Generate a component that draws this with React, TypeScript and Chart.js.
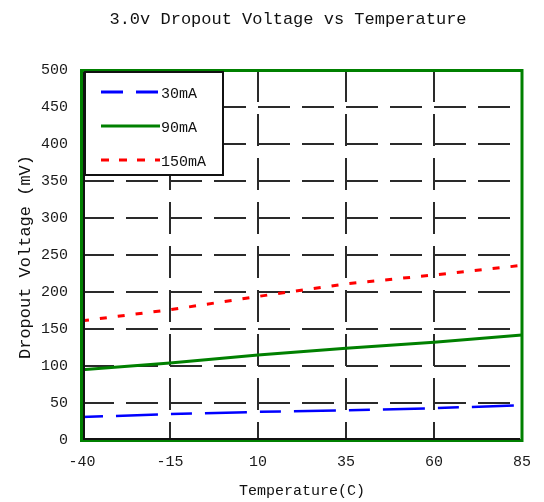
import React, { useEffect, useRef } from "react";
import { Chart, registerables } from "chart.js";

Chart.register(...registerables);

const TITLE = "3.0v Dropout Voltage vs Temperature";
const X_TITLE = "Temperature(C)";
const Y_TITLE = "Dropout Voltage (mV)";

const temperatures = [-40, -15, 10, 35, 60, 85];
const series30mA = [31, 35, 38, 40, 43, 47];
const series90mA = [95, 104, 115, 124, 132, 142];
const series150mA = [161, 176, 194, 211, 223, 236];

const seriesLabels = ["30mA", "90mA", "150mA"];
const seriesColors = ["#0000ff", "#008000", "#ff0000"];

const X_MIN = -40;
const X_MAX = 85;
const X_STEP = 25;
const Y_MIN = 0;
const Y_MAX = 500;
const Y_STEP = 50;

const FONT = "'Liberation Mono', 'DejaVu Sans Mono', monospace";

const toPoints = (vals: number[]) => temperatures.map((t, i) => ({ x: t, y: vals[i] }));

const decorPlugin = {
  id: "decor",
  afterDatasetsDraw(chart: any) {
    const { ctx, chartArea } = chart;
    const { left, right, top, bottom } = chartArea;
    ctx.save();
    // frame
    ctx.strokeStyle = "#008000";
    ctx.lineWidth = 3;
    ctx.strokeRect(left - 0.5, top + 0.5, right - left + 0.5, bottom - top);
    ctx.strokeStyle = "#111";
    ctx.lineWidth = 2;
    ctx.beginPath();
    ctx.moveTo(left + 2, top + 2);
    ctx.lineTo(left + 2, bottom - 1);
    ctx.lineTo(right - 2, bottom - 1);
    ctx.stroke();

    // legend box
    const bx = left + 3;
    const by = top + 2;
    const bw = 138;
    const bh = 103;
    ctx.fillStyle = "#ffffff";
    ctx.fillRect(bx, by, bw, bh);
    ctx.strokeStyle = "#111";
    ctx.lineWidth = 2;
    ctx.strokeRect(bx, by, bw, bh);

    const rows = [20, 54, 88];
    const dashes = [[22, 13], [], [8, 10]];
    chart.data.datasets.forEach((ds: any, i: number) => {
      const y = by + rows[i];
      ctx.strokeStyle = ds.borderColor;
      ctx.lineWidth = 3;
      ctx.setLineDash(dashes[i]);
      ctx.beginPath();
      ctx.moveTo(bx + 16, y);
      ctx.lineTo(bx + 75, y);
      ctx.stroke();
      ctx.setLineDash([]);
      ctx.fillStyle = "#111";
      ctx.font = `15px ${FONT}`;
      ctx.textBaseline = "middle";
      ctx.textAlign = "left";
      ctx.fillText(ds.label, bx + 76, y + 2);
    });

    // titles
    ctx.fillStyle = "#111";
    ctx.font = `17px ${FONT}`;
    ctx.textAlign = "center";
    ctx.textBaseline = "middle";
    ctx.fillText(TITLE, 288, 19);

    ctx.font = `15px ${FONT}`;
    ctx.fillText(X_TITLE, 302, 491);

    ctx.translate(25, 257);
    ctx.rotate(-Math.PI / 2);
    ctx.font = `17px ${FONT}`;
    ctx.fillText(Y_TITLE, 0, 0);
    ctx.restore();
  },
};

export default function App() {
  const ref = useRef<HTMLCanvasElement>(null);
  useEffect(() => {
    if (!ref.current) return;
    const gridColor = (min: number, max: number) => (c: any) =>
      c.tick && (c.tick.value === min || c.tick.value === max) ? "rgba(0,0,0,0)" : "#2a2a2a";
    const chart = new Chart(ref.current, {
      type: "line",
      data: {
        datasets: [
          {
            label: seriesLabels[0],
            data: toPoints(series30mA),
            borderColor: seriesColors[0],
            borderWidth: 2.5,
            borderDash: [21, 13, 42, 13],
            pointRadius: 0,
            tension: 0,
          },
          {
            label: seriesLabels[1],
            data: toPoints(series90mA),
            borderColor: seriesColors[1],
            borderWidth: 3,
            pointRadius: 0,
            tension: 0,
          },
          {
            label: seriesLabels[2],
            data: toPoints(series150mA),
            borderColor: seriesColors[2],
            borderWidth: 3,
            borderDash: [7, 11],
            pointRadius: 0,
            tension: 0,
          },
        ] as any,
      },
      options: {
        responsive: false,
        animation: false,
        layout: { padding: { top: 70, right: 19, left: 0, bottom: 0 } },
        plugins: {
          legend: { display: false },
          title: { display: false },
          tooltip: { enabled: false },
        },
        scales: {
          x: {
            type: "linear",
            min: X_MIN,
            max: X_MAX,
            afterFit: (s: any) => {
              s.height = 62;
            },
            ticks: {
              stepSize: X_STEP,
              color: "#1a1a1a",
              font: { family: FONT, size: 15 },
              padding: 13,
              maxRotation: 0,
            },
            grid: {
              color: gridColor(X_MIN, X_MAX),
              lineWidth: 2,
              drawTicks: false,
              tickBorderDash: [],
            },
            border: { display: false, dash: [32, 12] },
          },
          y: {
            min: Y_MIN,
            max: Y_MAX,
            afterFit: (s: any) => {
              s.width = 82;
            },
            ticks: {
              stepSize: Y_STEP,
              color: "#1a1a1a",
              font: { family: FONT, size: 15 },
              padding: 14,
            },
            grid: {
              color: gridColor(Y_MIN, Y_MAX),
              lineWidth: 2,
              drawTicks: false,
            },
            border: { display: false, dash: [32, 12] },
          },
        },
      } as any,
      plugins: [decorPlugin],
    });
    return () => chart.destroy();
  }, []);
  return (
    <div style={{ position: "fixed", left: 0, top: 0, width: 544, height: 502, background: "#fff" }}>
      <canvas ref={ref} width={544} height={502} style={{ display: "block" }} />
    </div>
  );
}
